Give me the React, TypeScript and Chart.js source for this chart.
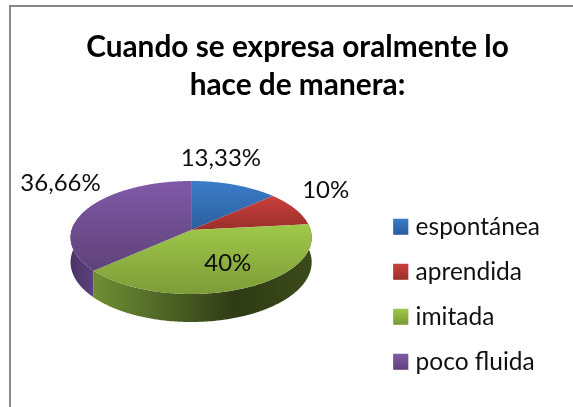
import React, { useEffect, useRef } from "react";
import { Chart, registerables } from "chart.js";

Chart.register(...registerables);

const categories = ["espontánea", "aprendida", "imitada", "poco fluida"];
const values = [13.33, 10, 40, 36.66];
const titleLines = ["Cuando se expresa oralmente lo", "hace de manera:"];

const FONT = "Lato, Carlito, sans-serif";
const topColors = [
  ["#3b7cca", "#2c5f9c"],
  ["#cb403d", "#9a2f2c"],
  ["#9fc84a", "#7d9c38"],
  ["#8059a8", "#5e4279"],
];
const legendColors = [
  ["#3b7cca", "#2a5d9a"],
  ["#cb403d", "#9a2f2c"],
  ["#9fc84a", "#7a9936"],
  ["#8059a8", "#5f4279"],
];
const wallStops: [number, string][][] = [
  [[0, "#2c5f9c"], [1, "#1f4573"]],
  [[0, "#7a2523"], [1, "#5e1c1a"]],
  [[0, "#6f8e33"], [0.34, "#4d6325"], [0.65, "#2f3b14"], [1, "#3b4a1a"]],
  [[0, "#4a3364"], [1, "#5d4280"]],
];
const labelOffsets = [
  [-13.6, -27],
  [31, -18.6],
  [-18.6, -24.7],
  [-27, -25.6],
];

// Tilted-disc view of the pie: a perspective projection of the library's arc angles.
const VIEW = { dx: -17.8, dy: -19.25, rx: 119.5, ry: 55.5, persp: -0.1327, depth: 24.3 };

const pie3d = {
  id: "pie3d",
  beforeDatasetDraw() {
    return false;
  },
  afterDatasetsDraw(chart: any) {
    const ctx = chart.ctx as CanvasRenderingContext2D;
    const arcs = chart.getDatasetMeta(0).data as any[];
    const cx = arcs[0].x + VIEW.dx;
    const cy = arcs[0].y + VIEW.dy;
    const project = (a: number, drop = 0) => {
      const u = Math.cos(a);
      const v = Math.sin(a);
      const w = 1 + VIEW.persp * v;
      return { x: cx + (VIEW.rx * u) / w, y: cy + (VIEW.ry * v + drop) / w };
    };
    const rim = (from: number, to: number, drop = 0) => {
      const pts = [];
      const n = Math.max(2, Math.ceil(Math.abs(to - from) / 0.01));
      for (let i = 0; i <= n; i++) pts.push(project(from + ((to - from) * i) / n, drop));
      return pts;
    };
    const tangent = Math.asin(VIEW.persp);
    const wallFrom = tangent;
    const wallTo = Math.PI - tangent;

    // side walls
    const order = arcs.map((_, i) => i).sort((a, b) => b - a);
    order.forEach((i) => {
      const a = Math.max(arcs[i].startAngle, wallFrom);
      const b = Math.min(arcs[i].endAngle, wallTo);
      if (b <= a) return;
      const top = rim(a, b);
      const bottom = rim(b, a, VIEW.depth);
      const xs = top.map((p) => p.x);
      const g = ctx.createLinearGradient(Math.min(...xs), 0, Math.max(...xs), 0);
      wallStops[i].forEach(([s, c]) => g.addColorStop(s, c));
      ctx.beginPath();
      [...top, ...bottom].forEach((p, k) => (k ? ctx.lineTo(p.x, p.y) : ctx.moveTo(p.x, p.y)));
      ctx.closePath();
      ctx.fillStyle = g;
      ctx.fill();
    });

    // top faces
    arcs.forEach((arc, i) => {
      const pts = [{ x: cx, y: cy }, ...rim(arc.startAngle, arc.endAngle)];
      const ys = pts.map((p) => p.y);
      const g = ctx.createLinearGradient(0, Math.min(...ys), 0, Math.max(...ys));
      g.addColorStop(0, topColors[i][0]);
      g.addColorStop(1, topColors[i][1]);
      ctx.beginPath();
      pts.forEach((p, k) => (k ? ctx.lineTo(p.x, p.y) : ctx.moveTo(p.x, p.y)));
      ctx.closePath();
      ctx.fillStyle = g;
      ctx.fill();
    });

    // value labels
    ctx.save();
    ctx.font = `24px ${FONT}`;
    ctx.fillStyle = "#0d0d0d";
    ctx.textAlign = "center";
    ctx.textBaseline = "middle";
    arcs.forEach((arc, i) => {
      const p = project((arc.startAngle + arc.endAngle) / 2);
      const text = String(values[i]).replace(".", ",") + "%";
      ctx.fillText(text, p.x + labelOffsets[i][0], p.y + labelOffsets[i][1]);
    });
    ctx.restore();
  },
  afterDraw(chart: any) {
    const ctx = chart.ctx as CanvasRenderingContext2D;
    // gradient legend swatches
    (chart.legend.legendHitBoxes as any[]).forEach((box, i) => {
      const h = 16;
      const y = box.top + (box.height - h) / 2;
      const g = ctx.createLinearGradient(0, y, 0, y + h);
      g.addColorStop(0, legendColors[i][0]);
      g.addColorStop(1, legendColors[i][1]);
      ctx.fillStyle = g;
      ctx.fillRect(box.left, y, 15, h);
    });
    // chart frame
    ctx.save();
    ctx.strokeStyle = "#868686";
    ctx.lineWidth = 2;
    ctx.beginPath();
    ctx.moveTo(10, 407);
    ctx.lineTo(10, 6);
    ctx.lineTo(573, 6);
    ctx.stroke();
    ctx.restore();
  },
};

export default function App() {
  const ref = useRef<HTMLCanvasElement | null>(null);
  useEffect(() => {
    const chart = new Chart(ref.current as HTMLCanvasElement, {
      type: "pie",
      data: {
        labels: categories,
        datasets: [
          {
            data: values,
            backgroundColor: topColors.map((c) => c[0]),
            borderWidth: 0,
            radius: 119.5,
          },
        ],
      },
      plugins: [pie3d],
      options: {
        animation: false,
        responsive: false,
        layout: { padding: { left: 45, right: 23, top: 0, bottom: 12.5 } },
        plugins: {
          tooltip: { enabled: false },
          title: {
            display: true,
            text: titleLines,
            color: "#000000",
            font: { family: FONT, size: 29.8, weight: "bold", lineHeight: 1.275 },
            padding: { top: 28, bottom: 0 },
          },
          legend: {
            position: "right",
            align: "end",
            labels: {
              color: "#111111",
              font: { family: FONT, size: 24.5 },
              boxWidth: 10,
              boxHeight: 15,
              padding: 20.5,
            },
          },
        },
      },
    } as any);
    return () => chart.destroy();
  }, []);
  return (
    <div style={{ position: "fixed", left: 0, top: 0, width: 573, height: 407, background: "#fff" }}>
      <canvas ref={ref} width={573} height={407} style={{ display: "block" }} />
    </div>
  );
}
